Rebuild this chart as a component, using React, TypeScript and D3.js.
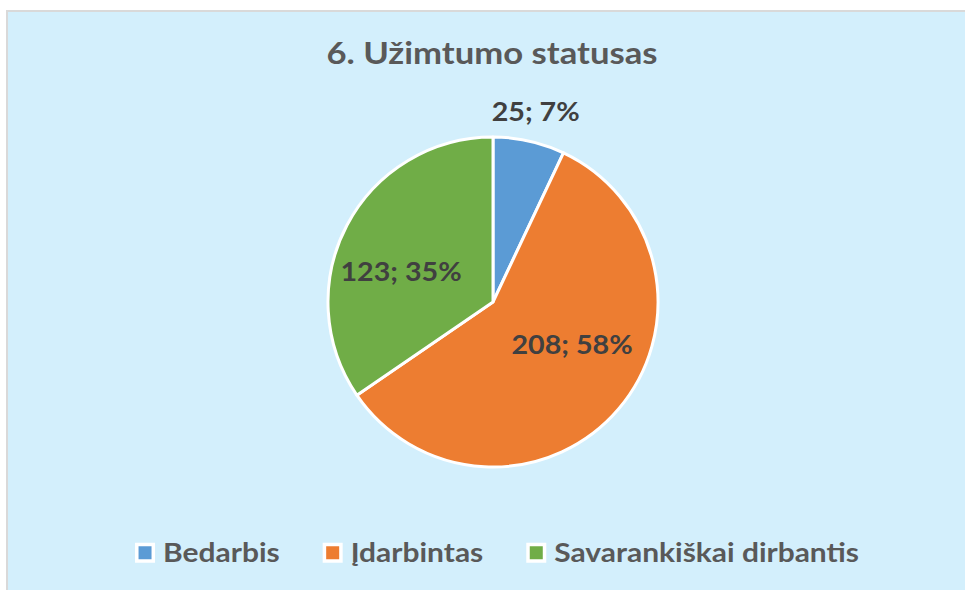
import React, { useEffect, useRef } from "react";
import * as d3 from "d3";

const title = "6. Užimtumo statusas";
const categories = ["Bedarbis", "Įdarbintas", "Savarankiškai dirbantis"];
const values = [25, 208, 123];
const percents = ["7%", "58%", "35%"];
const colors = ["#5B9BD5", "#ED7D31", "#70AD47"];

const W = 965;
const H = 590;
const FONT = "Lato, 'Open Sans', sans-serif";

function stretch(sel: d3.Selection<SVGTextElement, any, any, any>, k: number) {
  sel.each(function () {
    const w = this.getComputedTextLength();
    d3.select(this).attr("textLength", w * k).attr("lengthAdjust", "spacingAndGlyphs");
  });
}

export default function App() {
  const ref = useRef<SVGSVGElement>(null);

  useEffect(() => {
    const svg = d3.select(ref.current);
    svg.selectAll("*").remove();

    svg.append("rect")
      .attr("x", 7).attr("y", 11)
      .attr("width", W).attr("height", H)
      .attr("fill", "#D3EFFC")
      .attr("stroke", "#D9D9D9").attr("stroke-width", 2);

    const t = svg.append("text")
      .attr("x", 492).attr("y", 63.5)
      .attr("text-anchor", "middle")
      .attr("font-family", FONT).attr("font-weight", 700)
      .attr("font-size", 30).attr("fill", "#595959")
      .text(title);
    stretch(t as any, 1.155);

    const cx = 493, cy = 302, R = 165;
    const pie = d3.pie<number>().sort(null).value(d => d);
    const arcs = pie(values);
    const arc = d3.arc<d3.PieArcDatum<number>>().innerRadius(0).outerRadius(R);

    const g = svg.append("g").attr("transform", `translate(${cx},${cy})`);
    g.selectAll("path").data(arcs).enter().append("path")
      .attr("d", arc as any)
      .attr("fill", (_, i) => colors[i])
      .attr("stroke", "#FFFFFF").attr("stroke-width", 3)
      .attr("stroke-linejoin", "round");

    const labels = g.selectAll("text.lbl").data(arcs).enter().append("text")
      .attr("class", "lbl")
      .attr("x", d => {
        const a = (d.startAngle + d.endAngle) / 2;
        const outside = d.endAngle - d.startAngle < 0.6;
        return Math.sin(a) * (outside ? R + 30 : R * 0.63);
      })
      .attr("y", d => {
        const a = (d.startAngle + d.endAngle) / 2;
        const outside = d.endAngle - d.startAngle < 0.6;
        return -Math.cos(a) * (outside ? R + 30 : R * 0.4);
      })
      .attr("dy", "0.36em")
      .attr("text-anchor", "middle")
      .attr("font-family", FONT).attr("font-weight", 700)
      .attr("font-size", 26.5).attr("fill", "#404040")
      .text((d, i) => `${values[i]}; ${percents[i]}`);
    stretch(labels as any, 1.08);

    // legend
    const lg = svg.append("g");
    const items = lg.selectAll("g").data(categories).enter().append("g");
    items.append("rect")
      .attr("x", 1.75).attr("y", -17.2)
      .attr("width", 16.5).attr("height", 16.5)
      .attr("fill", (_, i) => colors[i])
      .attr("stroke", "#FFFFFF").attr("stroke-width", 3.5);
    const lt = items.append("text")
      .attr("x", 28).attr("y", 0)
      .attr("font-family", FONT).attr("font-weight", 700)
      .attr("font-size", 26.5).attr("fill", "#595959")
      .text(d => d);
    stretch(lt as any, 1.13);
    let x = 0;
    const gap = 43;
    items.each(function () {
      const tx = (this as SVGGElement).querySelector("text") as SVGTextElement;
      const w = 28 + Number(tx.getAttribute("textLength"));
      d3.select(this).attr("transform", `translate(${x},0)`);
      x += w + gap;
    });
    const total = x - gap;
    lg.attr("transform", `translate(${497 - total / 2},561.7)`);
  }, []);

  return (
    <svg
      ref={ref}
      width={W}
      height={H}
      style={{ position: "absolute", left: 0, top: 0, background: "#FFFFFF" }}
    />
  );
}
